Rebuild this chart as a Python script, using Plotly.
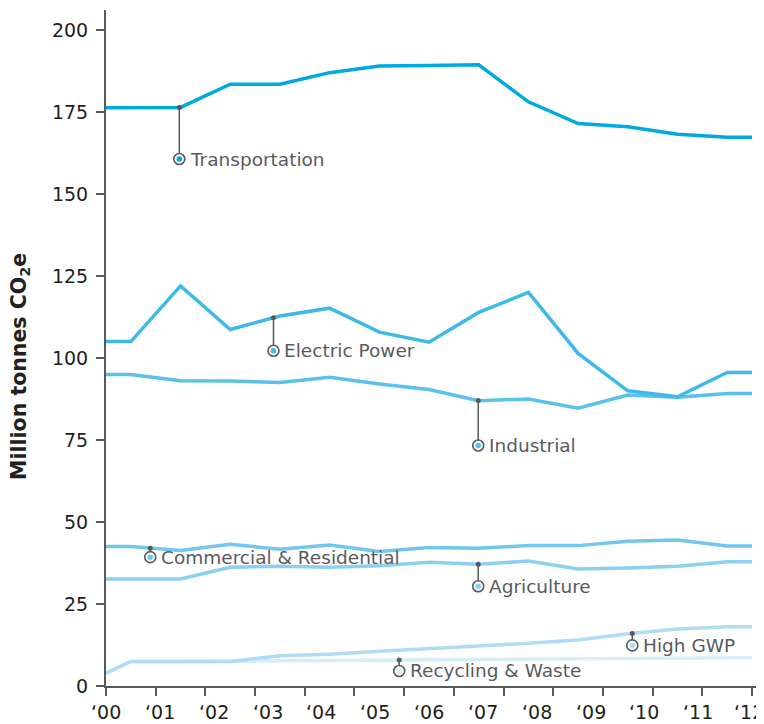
import numpy as np
import plotly.graph_objects as go

# ---------------- data ----------------
year_labels = ["\u201800", "\u201801", "\u201802", "\u201803", "\u201804", "\u201805", "\u201806",
               "\u201807", "\u201808", "\u201809", "\u201810", "\u201811", "\u201812"]

transportation = [176.3, 176.4, 183.5, 183.5, 187.0, 189.0, 189.2, 189.4, 178.1, 171.5, 170.5, 168.2, 167.3]
electric_power = [105.0, 122.0, 108.7, 112.8, 115.2, 107.9, 104.8, 113.9, 120.0, 101.4, 90.0, 88.2, 95.6]
industrial = [95.0, 93.1, 93.0, 92.5, 94.1, 92.1, 90.4, 87.0, 87.5, 84.7, 88.7, 88.0, 89.2]
commercial_residential = [42.5, 41.3, 43.2, 41.7, 43.0, 41.0, 42.2, 42.0, 42.8, 42.8, 44.1, 44.5, 42.7]
agriculture = [32.6, 32.6, 36.2, 36.5, 36.2, 36.7, 37.7, 37.1, 38.1, 35.7, 36.0, 36.5, 37.9]
high_gwp = [7.5, 7.5, 7.5, 9.2, 9.7, 10.6, 11.3, 12.2, 13.0, 14.0, 15.9, 17.4, 18.1]
recycling_waste = [7.5, 7.5, 7.5, 7.7, 7.8, 7.9, 8.0, 8.1, 8.2, 8.3, 8.3, 8.5, 8.6]

# value at the left edge of the axis (before the first year)
edge_start = {"High GWP": 3.9, "Recycling & Waste": 3.9}

series_names = ["Recycling & Waste", "High GWP", "Agriculture", "Commercial & Residential",
                "Industrial", "Electric Power", "Transportation"]
series_values = [recycling_waste, high_gwp, agriculture, commercial_residential,
                 industrial, electric_power, transportation]

# ---------------- styling ----------------
colors = {
    "Transportation": "#00a9e0",
    "Electric Power": "#3dbae8",
    "Industrial": "#5ac1ea",
    "Commercial & Residential": "#71c7ed",
    "Agriculture": "#8bd0f0",
    "High GWP": "#aedcf4",
    "Recycling & Waste": "#d5edf9",
}
# label placement: x position (axis units) and drop below line in px
label_pos = {
    "Transportation": (1.475, 51.6),
    "Electric Power": (3.37, 33),
    "Industrial": (7.49, 45),
    "Commercial & Residential": (0.89, 9),
    "Agriculture": (7.49, 22),
    "High GWP": (10.59, 12),
    "Recycling & Waste": (5.9, 11),
}

PX_PER_UNIT_Y = 3.28
n = len(year_labels)
xs_years = np.arange(n) + 0.5
x_full = np.concatenate([[0.0], xs_years, [float(n)]])

GRAY = "#58595b"
FONT = "DejaVu Sans"

fig = go.Figure()

for name, vals in zip(series_names, series_values):
    y_full = [edge_start.get(name, vals[0])] + list(vals) + [vals[-1]]
    fig.add_trace(go.Scatter(x=x_full, y=y_full, mode="lines",
                             line=dict(color=colors[name], width=3.5),
                             hoverinfo="skip", showlegend=False))

annotations = []
for name, vals in zip(series_names, series_values):
    y_full = [edge_start.get(name, vals[0])] + list(vals) + [vals[-1]]
    lx, drop = label_pos[name]
    ytop = float(np.interp(lx, x_full, y_full))
    ybot = ytop - drop / PX_PER_UNIT_Y
    fig.add_trace(go.Scatter(x=[lx, lx], y=[ytop, ybot], mode="lines",
                             line=dict(color=GRAY, width=1.5),
                             hoverinfo="skip", showlegend=False))
    fig.add_trace(go.Scatter(x=[lx], y=[ytop], mode="markers",
                             marker=dict(color=GRAY, size=5),
                             hoverinfo="skip", showlegend=False))
    fig.add_trace(go.Scatter(x=[lx], y=[ybot], mode="markers",
                             marker=dict(color="white", size=11, line=dict(color=GRAY, width=1.6)),
                             hoverinfo="skip", showlegend=False))
    fig.add_trace(go.Scatter(x=[lx], y=[ybot], mode="markers",
                             marker=dict(color=colors[name], size=5.5),
                             hoverinfo="skip", showlegend=False))
    annotations.append(dict(x=lx, y=ybot, xref="x", yref="y", text=name, showarrow=False,
                            xanchor="left", yanchor="middle", xshift=9, yshift=0,
                            font=dict(family=FONT, size=18.5, color="#5a5b5d")))

# x tick labels (spread evenly across the axis)
for k, lab in enumerate(year_labels):
    annotations.append(dict(x=k * n / (n - 1), y=0, xref="x", yref="paper", text=lab,
                            showarrow=False, xanchor="center", yanchor="middle", yshift=-26,
                            xshift=(-3 if k == n - 1 else 0),
                            font=dict(family=FONT, size=19, color="#231f20")))

# y-axis title
annotations.append(dict(x=-86 / 656, y=0.472, xref="paper", yref="paper",
                        text="<b>Million tonnes CO<sub>2</sub>e</b>", textangle=-90, showarrow=False,
                        xanchor="center", yanchor="middle",
                        font=dict(family=FONT, size=20.5, color="#231f20")))

fig.update_layout(
    width=756, height=716,
    margin=dict(l=98, r=2, t=2, b=38),
    plot_bgcolor="white", paper_bgcolor="white",
    showlegend=False,
    annotations=annotations,
    xaxis=dict(range=[0, 13.2], tickvals=list(range(0, n + 1)), showticklabels=False,
               ticks="outside", ticklen=8, tickwidth=2, tickcolor=GRAY,
               showline=True, linecolor=GRAY, linewidth=2, showgrid=False, zeroline=False),
    yaxis=dict(range=[0, 206.1], tickvals=list(range(0, 201, 25)),
               ticks="outside", ticklen=8, tickwidth=2, tickcolor=GRAY,
               ticklabelstandoff=4,
               tickfont=dict(family=FONT, size=19, color="#231f20"),
               showline=True, linecolor=GRAY, linewidth=2, showgrid=False, zeroline=False),
)

fig.write_html("out.html")
